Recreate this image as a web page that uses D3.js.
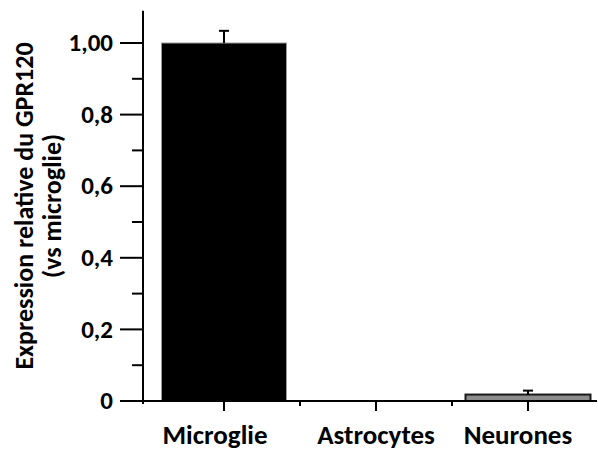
<!DOCTYPE html>
<html>
<head>
<meta charset="utf-8">
<script src="https://cdn.jsdelivr.net/npm/d3@7"></script>
<style>
  html, body { margin: 0; padding: 0; background: #fff; }
  svg text { font-family: Carlito, Calibri, Lato, sans-serif; font-weight: bold; fill: #000; }
</style>
</head>
<body>
<svg id="chart" width="598" height="452"></svg>
<script>
// Relative GPR120 expression per cell type (normalised to microglia)
const categories = ["Microglie", "Astrocytes", "Neurones"];
const values = [1.00, 0.001, 0.018];
const errors = [0.034, 0, 0.011];
const tickValues = [0, 0.2, 0.4, 0.6, 0.8, 1.0];
const tickLabels = ["0", "0,2", "0,4", "0,6", "0,8", "1,00"];
const minorTickValues = [0.1, 0.3, 0.5, 0.7, 0.9];
const barFills = ["#000000", "#ffffff", "#8c8c8c"];
const barStrokes = ["#9a9a9a", "#000000", "#1a1a1a"];

const svg = d3.select("#chart");

// value axis: 0 at y=401, 1.0 at y=43, line runs up to 1.09
const yMax = 1.09;
const y = d3.scaleLinear().domain([0, yMax]).range([401, 401 - 358 * yMax]);

const x = d3.scaleBand().domain(categories).range([148, 604]).padding(0);
const barW = 125;
const cx = (d) => x(d) + x.bandwidth() / 2;

// Bars
svg.selectAll("rect.bar")
  .data(categories)
  .join("rect")
  .attr("class", "bar")
  .attr("x", (d) => cx(d) - barW / 2)
  .attr("width", barW)
  .attr("y", (d, i) => y(values[i]))
  .attr("height", (d, i) => y(0) - y(values[i]))
  .attr("fill", (d, i) => barFills[i])
  .attr("stroke", (d, i) => barStrokes[i])
  .attr("stroke-width", (d, i) => i === 2 ? 2 : 1);

// Error bars (upper whisker)
const errData = categories.map((d, i) => ({ d, v: values[i], e: errors[i] })).filter((o) => o.e > 0);
const eb = svg.selectAll("g.err").data(errData).join("g").attr("class", "err");
eb.append("line")
  .attr("x1", (o) => cx(o.d)).attr("x2", (o) => cx(o.d))
  .attr("y1", (o) => y(o.v)).attr("y2", (o) => y(o.v + o.e))
  .attr("stroke", "#000").attr("stroke-width", 2);
eb.append("line")
  .attr("x1", (o) => cx(o.d) - 5).attr("x2", (o) => cx(o.d) + 5)
  .attr("y1", (o) => y(o.v + o.e)).attr("y2", (o) => y(o.v + o.e))
  .attr("stroke", "#000").attr("stroke-width", 2);

// Y axis
const yAxis = svg.append("g").attr("transform", "translate(143,0)");
yAxis.append("line")
  .attr("x1", 0).attr("x2", 0)
  .attr("y1", y(0) + 2).attr("y2", y(yMax))
  .attr("stroke", "#000").attr("stroke-width", 2);
yAxis.selectAll("line.major")
  .data(tickValues)
  .join("line")
  .attr("class", "major")
  .attr("x1", -23).attr("x2", 0)
  .attr("y1", (d) => y(d)).attr("y2", (d) => y(d))
  .attr("stroke", "#000").attr("stroke-width", 2);
yAxis.selectAll("line.minor")
  .data(minorTickValues)
  .join("line")
  .attr("class", "minor")
  .attr("x1", -11).attr("x2", 0)
  .attr("y1", (d) => y(d)).attr("y2", (d) => y(d))
  .attr("stroke", "#000").attr("stroke-width", 2);
yAxis.selectAll("text.tick")
  .data(tickValues)
  .join("text")
  .attr("class", "tick")
  .attr("x", -30)
  .attr("y", (d) => y(d))
  .attr("dy", "0.33em")
  .attr("text-anchor", "end")
  .attr("font-size", 25)
  .text((d, i) => tickLabels[i]);

// X axis
const xAxis = svg.append("g");
xAxis.append("line")
  .attr("x1", 142).attr("x2", 597)
  .attr("y1", y(0)).attr("y2", y(0))
  .attr("stroke", "#000").attr("stroke-width", 2);
xAxis.selectAll("line.major")
  .data(categories)
  .join("line")
  .attr("class", "major")
  .attr("x1", cx).attr("x2", cx)
  .attr("y1", y(0)).attr("y2", y(0) + 10)
  .attr("stroke", "#000").attr("stroke-width", 2);
xAxis.selectAll("line.minor")
  .data(categories.slice(1))
  .join("line")
  .attr("class", "minor")
  .attr("x1", (d) => x(d)).attr("x2", (d) => x(d))
  .attr("y1", y(0)).attr("y2", y(0) + 5)
  .attr("stroke", "#000").attr("stroke-width", 2);
xAxis.append("line")
  .attr("x1", 143).attr("x2", 143)
  .attr("y1", y(0)).attr("y2", y(0) + 3)
  .attr("stroke", "#000").attr("stroke-width", 2);
const labelShift = [-9, 0, -10];
xAxis.selectAll("text.cat")
  .data(categories)
  .join("text")
  .attr("class", "cat")
  .attr("x", (d, i) => cx(d) + labelShift[i])
  .attr("y", 444)
  .attr("text-anchor", "middle")
  .attr("font-size", 27)
  .text((d) => d);

// Y axis title
const title = svg.append("text")
  .attr("transform", "translate(0,206) rotate(-90)")
  .attr("text-anchor", "middle")
  .attr("font-size", 26);
title.append("tspan").attr("x", 0).attr("y", 33).text("Expression relative du GPR120");
title.append("tspan").attr("x", 0).attr("y", 61).text("(vs microglie)");
</script>
</body>
</html>
